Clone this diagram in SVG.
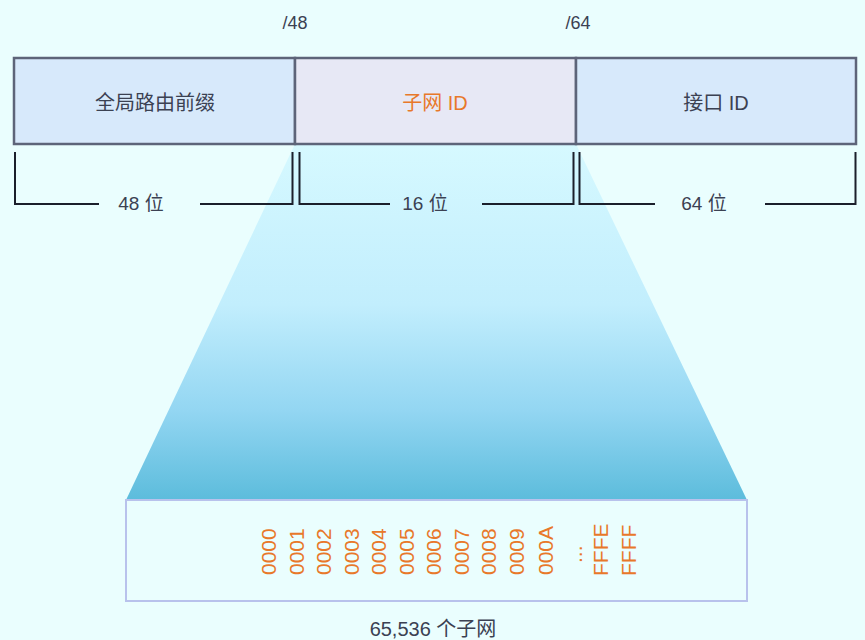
<svg xmlns="http://www.w3.org/2000/svg" width="865" height="640" viewBox="0 0 865 640">
<defs>
<linearGradient id="fan" x1="0" y1="144" x2="0" y2="500" gradientUnits="userSpaceOnUse">
<stop offset="0" stop-color="#d6f9ff"/>
<stop offset="0.45" stop-color="#c2eefd"/>
<stop offset="0.75" stop-color="#93d6f2"/>
<stop offset="1" stop-color="#5cbcdc"/>
</linearGradient>
<style>
.t{font-family:"Liberation Sans","Noto Sans CJK SC",Arial,sans-serif;fill:#3b4152}
.o{fill:#e8782a}
.seg{stroke:#5d6479;stroke-width:2.5}
.br{fill:none;stroke:#1b1f2b;stroke-width:2}
.v{font-family:"Liberation Sans",Arial,sans-serif;font-size:21px;fill:#e8782a}
</style>
</defs>
<rect width="865" height="640" fill="#eafefe"/>
<polygon points="295,144 576,144 747,500 126,500" fill="url(#fan)"/>
<text class="t" x="295" y="29" font-size="18" text-anchor="middle">/48</text>
<text class="t" x="578" y="29" font-size="18" text-anchor="middle">/64</text>
<g id="global-prefix">
<rect class="seg" x="14" y="58" width="281" height="86" fill="#d7e9fb"/>
<text class="t" x="155" y="110" font-size="20" text-anchor="middle">全局路由前缀</text>
</g>
<g id="subnet-id">
<rect class="seg" x="295" y="58" width="281" height="86" fill="#e7e8f5"/>
<text class="t o" x="435" y="110" font-size="20" text-anchor="middle">子网 ID</text>
</g>
<g id="interface-id">
<rect class="seg" x="576" y="58" width="280" height="86" fill="#d7e9fb"/>
<text class="t" x="716" y="110" font-size="20" text-anchor="middle">接口 ID</text>
</g>
<g id="connectors">
<path class="br" d="M15,152 V204 H99 M200,204 H292.5 V152"/>
<path class="br" d="M299.5,152 V204 H390 M482,204 H573.5 V152"/>
<path class="br" d="M579.5,152 V204 H655 M765,204 H855.5 V152"/>
</g>
<text class="t" x="141" y="210" font-size="19" text-anchor="middle">48 位</text>
<text class="t" x="425" y="210" font-size="19" text-anchor="middle">16 位</text>
<text class="t" x="704" y="210" font-size="19" text-anchor="middle">64 位</text>
<g id="subnet-list">
<rect x="126" y="500" width="621" height="101" fill="#eafefe" stroke="#b8c2ec" stroke-width="2"/>
<g class="v">
<text transform="translate(276,575) rotate(-90)">0000</text>
<text transform="translate(303.5,575) rotate(-90)">0001</text>
<text transform="translate(331,575) rotate(-90)">0002</text>
<text transform="translate(358.5,575) rotate(-90)">0003</text>
<text transform="translate(386,575) rotate(-90)">0004</text>
<text transform="translate(413.5,575) rotate(-90)">0005</text>
<text transform="translate(441,575) rotate(-90)">0006</text>
<text transform="translate(468.5,575) rotate(-90)">0007</text>
<text transform="translate(496,575) rotate(-90)">0008</text>
<text transform="translate(523.5,575) rotate(-90)">0009</text>
<text transform="translate(553,575) rotate(-90)">000A</text>
<text transform="translate(582,563) rotate(-90)">...</text>
<text transform="translate(608,576) rotate(-90)">FFFE</text>
<text transform="translate(635.5,576) rotate(-90)">FFFF</text>
</g>
</g>
<text class="t" x="433" y="636" font-size="20" text-anchor="middle">65,536 个子网</text>
</svg>
